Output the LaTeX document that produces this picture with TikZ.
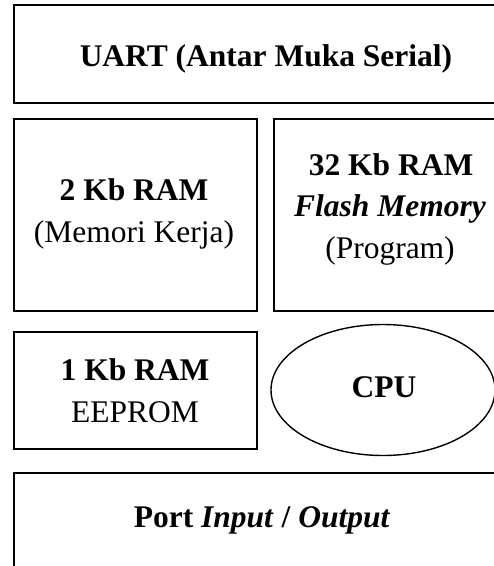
\documentclass[tikz,border=0pt]{standalone}
\usepackage{fontspec}
\setmainfont{Liberation Serif}
\usetikzlibrary{shapes.geometric}
\begin{document}
\begin{tikzpicture}[x=1pt,y=-1pt,
  box/.style={draw, line width=1.6pt, inner sep=0pt, anchor=north west},
  oval/.style={draw, ellipse, line width=1.4pt, inner sep=0pt},
  txt/.style={anchor=base, inner sep=0pt, font=\fontsize{31.5}{40}\selectfont}]
\clip (0,0) rectangle (494,566);
\node[box, minimum width=502pt, minimum height=98pt] (uart) at (13,4) {};
\node[box, minimum width=243pt, minimum height=192pt] (ram2) at (13,118) {};
\node[box, minimum width=234pt, minimum height=192pt] (flash) at (273,118) {};
\node[box, minimum width=243pt, minimum height=117pt] (eeprom) at (13,331) {};
\node[oval, minimum width=224pt, minimum height=131pt] (cpu) at (383,390) {};
\node[box, minimum width=502pt, minimum height=98pt] (port) at (13,472) {};
% texts
\node[txt] (tuart) at (266,66) {\textbf{UART (Antar Muka Serial)}};
\node[txt] (tram2a) at (134,200) {\textbf{2 Kb RAM}};
\node[txt] (tram2b) at (134,242) {(Memori Kerja)};
\node[txt] (tflasha) at (391,175) {\textbf{32 Kb RAM}};
\node[txt] (tflashb) at (390,216) {\textbf{\itshape Flash Memory}};
\node[txt] (tflashc) at (390,258) {(Program)};
\node[txt] (teepa) at (135,380) {\textbf{1 Kb RAM}};
\node[txt] (teepb) at (135,422) {EEPROM};
\node[txt] (tcpu) at (384,397) {\textbf{CPU}};
\node[txt] (tport) at (262,527) {\textbf{Port \textit{Input} / \textit{Output}}};
\end{tikzpicture}
\end{document}
